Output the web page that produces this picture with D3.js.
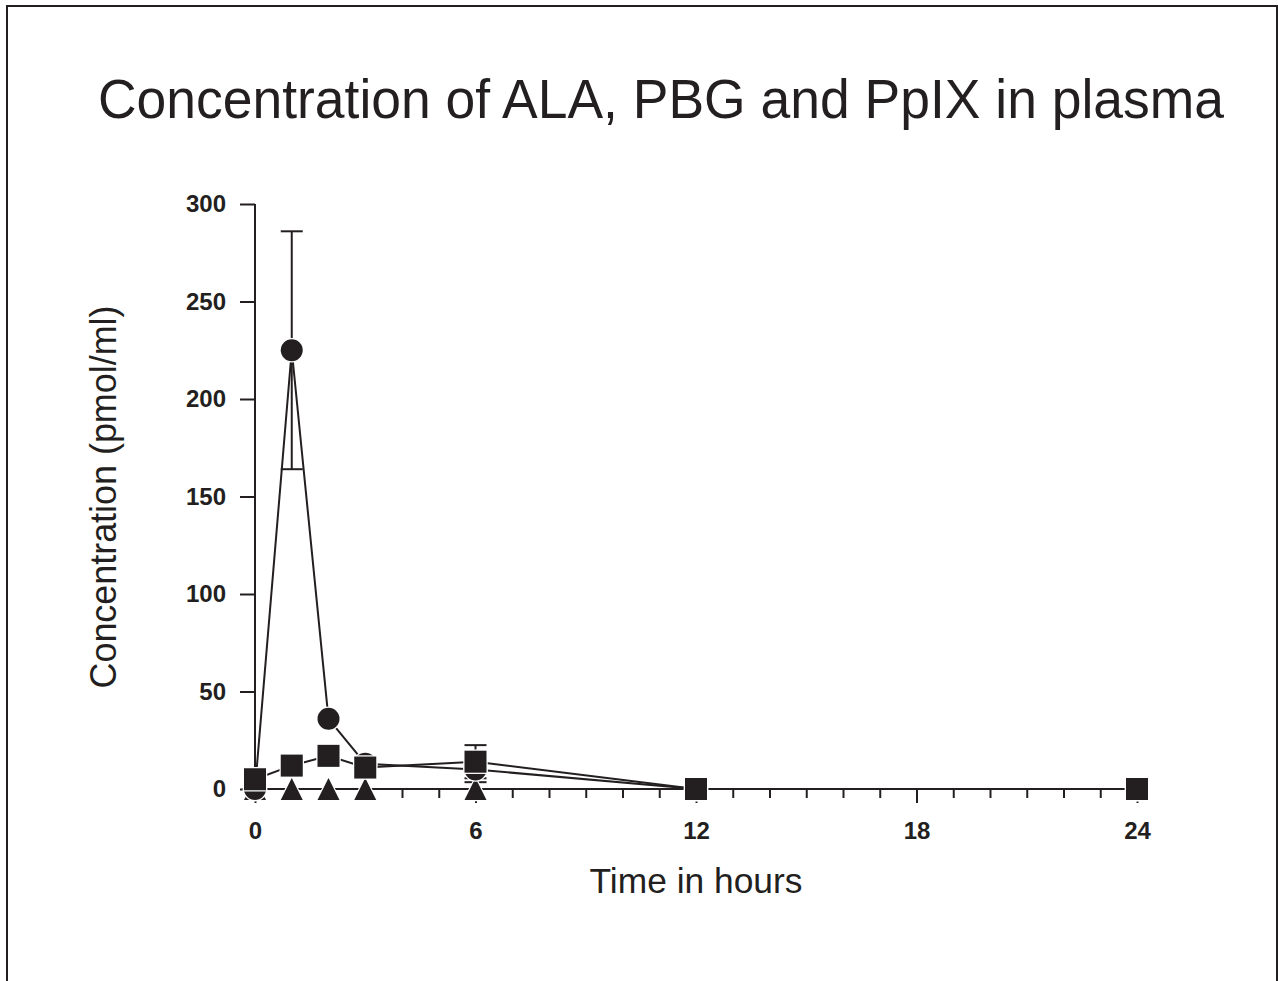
<!DOCTYPE html>
<html><head><meta charset="utf-8">
<script src="https://cdn.jsdelivr.net/npm/d3@7"></script>
<style>body{margin:0;background:#fff}svg{display:block}</style>
</head><body>
<script>
const times = [0, 1, 2, 3, 6, 12, 24];
const alaValues = [0, 225, 36, 13, 10, 0, 0];
const alaErrors = [0, 61, 0, 0, 6.5, 0, 0];
const pbgValues = [5, 12, 17, 11, 14, 0, 0];
const pbgErrors = [0, 0, 0, 0, 8.5, 0, 0];
const ppixValues = [0, 0, 0, 0, 0, 0, 0];
const xTickLabels = [0, 6, 12, 18, 24];
const yTickLabels = [0, 50, 100, 150, 200, 250, 300];

const W = 1278, H = 981, ink = "#231f20";
const FF = "'Liberation Sans', Arial, sans-serif";
const svg = d3.select("body").append("svg").attr("width", W).attr("height", H)
  .style("font-family", FF);

svg.append("rect").attr("x", 7).attr("y", 6).attr("width", 1270).attr("height", 1000)
  .attr("fill", "none").attr("stroke", ink).attr("stroke-width", 2);

svg.append("text").attr("x", 661).attr("y", 118).attr("text-anchor", "middle")
  .attr("font-size", 55).attr("fill", ink)
  .attr("textLength", 1126).attr("lengthAdjust", "spacingAndGlyphs")
  .text("Concentration of ALA, PBG and PpIX in plasma");

const x = d3.scaleLinear().domain([0, 24]).range([255, 1137]);
const y = d3.scaleLinear().domain([0, 300]).range([789, 204]);

// y axis
const yAxis = svg.append("g").attr("transform", "translate(255,0)")
  .call(d3.axisLeft(y).tickValues(yTickLabels).tickSize(15).tickPadding(14));
yAxis.select(".domain").attr("d", `M0,${y(300)}V${y(0)}`);
yAxis.selectAll("path,line").attr("stroke", ink).attr("stroke-width", 2);
yAxis.selectAll("text").attr("font-size", 24).attr("font-weight", "bold").attr("fill", ink)
  .attr("font-family", FF);

// x axis minor ticks
const xg = svg.append("g").attr("transform", `translate(0,${y(0)})`);
xg.call(d3.axisBottom(x).tickValues(d3.range(0, 25)).tickSize(9).tickFormat(""));
xg.select(".domain").remove();
const xMaj = svg.append("g").attr("transform", `translate(0,${y(0)})`)
  .call(d3.axisBottom(x).tickValues(xTickLabels).tickSize(14).tickPadding(19));
xMaj.select(".domain").remove();
svg.selectAll("g line").attr("stroke", ink).attr("stroke-width", 2);
xMaj.selectAll("text").attr("font-size", 24).attr("font-weight", "bold").attr("fill", ink)
  .attr("font-family", FF);
svg.append("line").attr("x1", 242).attr("x2", 1140).attr("y1", y(0)).attr("y2", y(0))
  .attr("stroke", ink).attr("stroke-width", 2);

svg.append("text").attr("x", 696).attr("y", 893).attr("text-anchor", "middle")
  .attr("font-size", 35).attr("fill", ink)
  .attr("textLength", 213).attr("lengthAdjust", "spacingAndGlyphs").text("Time in hours");
svg.append("text").attr("transform", "translate(116,497) rotate(-90)").attr("text-anchor", "middle")
  .attr("font-size", 36).attr("fill", ink)
  .attr("textLength", 383).attr("lengthAdjust", "spacingAndGlyphs").text("Concentration (pmol/ml)");

const line = d3.line().x(d => x(d[0])).y(d => y(d[1]));
const series = [
  {vals: ppixValues, errs: null, shape: "tri"},
  {vals: alaValues, errs: alaErrors, shape: "circle"},
  {vals: pbgValues, errs: pbgErrors, shape: "square"}
];
series.forEach(s => {
  svg.append("path").datum(times.map((t, i) => [t, s.vals[i]])).attr("d", line)
    .attr("fill", "none").attr("stroke", ink).attr("stroke-width", 2);
});
series.forEach(s => {
  if (!s.errs) return;
  times.forEach((t, i) => {
    const e = s.errs[i]; if (!e) return;
    const cx = x(t), lo = y(s.vals[i] - e), hi = y(s.vals[i] + e);
    svg.append("line").attr("x1", cx).attr("x2", cx).attr("y1", lo).attr("y2", hi)
      .attr("stroke", ink).attr("stroke-width", 2);
    [lo, hi].forEach(yy => svg.append("line").attr("x1", cx - 11).attr("x2", cx + 11)
      .attr("y1", yy).attr("y2", yy).attr("stroke", ink).attr("stroke-width", 2));
  });
});
series.forEach(s => {
  times.forEach((t, i) => {
    const cx = x(t), cy = y(s.vals[i]);
    let m;
    if (s.shape === "circle") m = svg.append("circle").attr("cx", cx).attr("cy", cy).attr("r", 11);
    else if (s.shape === "square") m = svg.append("rect").attr("x", cx - 11).attr("y", cy - 11).attr("width", 22).attr("height", 22);
    else m = svg.append("path").attr("d", `M${cx},${cy - 11}L${cx + 11},${cy + 11}L${cx - 11},${cy + 11}Z`);
    m.attr("fill", ink).attr("stroke", "#fff").attr("stroke-width", 2.5).attr("paint-order", "stroke");
  });
});
</script>
</body></html>
